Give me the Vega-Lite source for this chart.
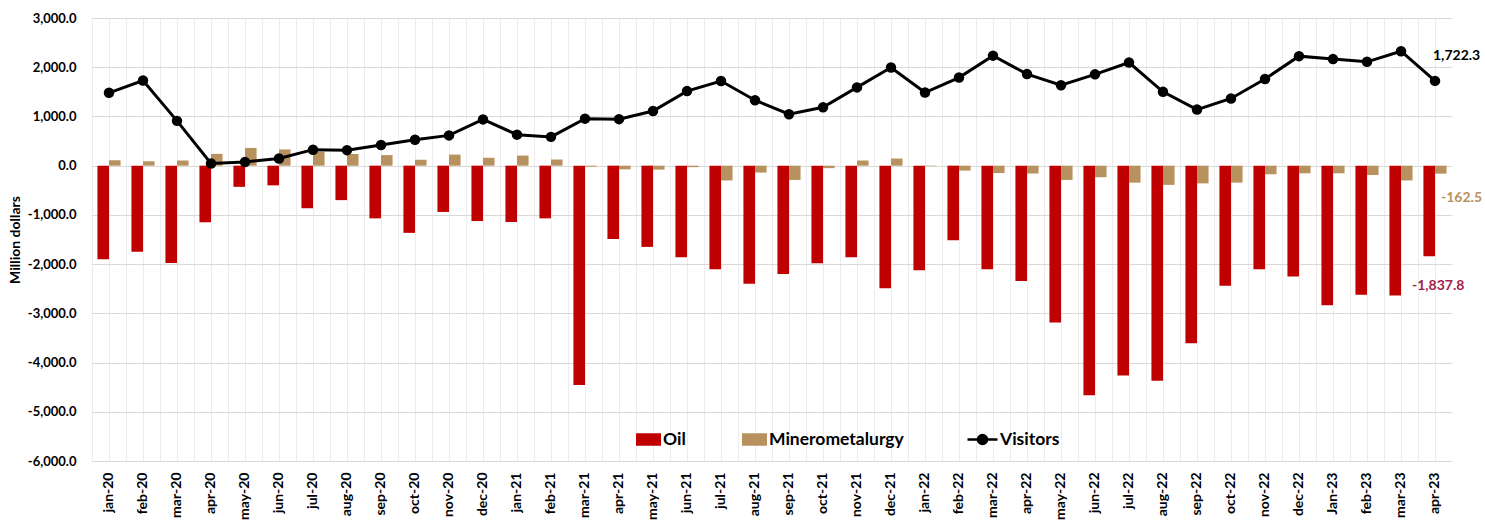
{
  "$schema": "https://vega.github.io/schema/vega-lite/v6.json",
  "width": 1360,
  "height": 443,
  "autosize": "none",
  "padding": {"left": 92, "top": 18, "right": 33, "bottom": 64},
  "config": {
    "font": "Lato",
    "view": {"stroke": null},
    "legend": {"padding": 0},
    "locale": {"number": {"decimal": ".", "thousands": ",", "grouping": [3], "currency": ["$", ""], "minus": "-"}}
  },
  "data": {
    "values": [
      {"m": "jan-20", "Oil": -1900, "Minerometalurgy": 110, "Visitors": 1480},
      {"m": "feb-20", "Oil": -1750, "Minerometalurgy": 90, "Visitors": 1730},
      {"m": "mar-20", "Oil": -1975, "Minerometalurgy": 105, "Visitors": 910},
      {"m": "apr-20", "Oil": -1150, "Minerometalurgy": 240, "Visitors": 45},
      {"m": "may-20", "Oil": -430, "Minerometalurgy": 360, "Visitors": 75},
      {"m": "jun-20", "Oil": -400, "Minerometalurgy": 330, "Visitors": 145},
      {"m": "jul-20", "Oil": -865, "Minerometalurgy": 285, "Visitors": 325},
      {"m": "aug-20", "Oil": -700, "Minerometalurgy": 235, "Visitors": 315},
      {"m": "sep-20", "Oil": -1070, "Minerometalurgy": 215, "Visitors": 420},
      {"m": "oct-20", "Oil": -1365, "Minerometalurgy": 120, "Visitors": 525},
      {"m": "nov-20", "Oil": -940, "Minerometalurgy": 225, "Visitors": 615},
      {"m": "dec-20", "Oil": -1125, "Minerometalurgy": 160, "Visitors": 940},
      {"m": "jan-21", "Oil": -1145, "Minerometalurgy": 205, "Visitors": 630},
      {"m": "feb-21", "Oil": -1070, "Minerometalurgy": 125, "Visitors": 585},
      {"m": "mar-21", "Oil": -4455, "Minerometalurgy": -20, "Visitors": 955},
      {"m": "apr-21", "Oil": -1490, "Minerometalurgy": -75, "Visitors": 945},
      {"m": "may-21", "Oil": -1650, "Minerometalurgy": -80, "Visitors": 1110},
      {"m": "jun-21", "Oil": -1860, "Minerometalurgy": -30, "Visitors": 1515},
      {"m": "jul-21", "Oil": -2105, "Minerometalurgy": -300, "Visitors": 1720},
      {"m": "aug-21", "Oil": -2400, "Minerometalurgy": -140, "Visitors": 1330},
      {"m": "sep-21", "Oil": -2200, "Minerometalurgy": -290, "Visitors": 1045},
      {"m": "oct-21", "Oil": -1985, "Minerometalurgy": -50, "Visitors": 1185},
      {"m": "nov-21", "Oil": -1860, "Minerometalurgy": 105, "Visitors": 1590},
      {"m": "dec-21", "Oil": -2490, "Minerometalurgy": 145, "Visitors": 1995},
      {"m": "jan-22", "Oil": -2125, "Minerometalurgy": -10, "Visitors": 1485},
      {"m": "feb-22", "Oil": -1515, "Minerometalurgy": -100, "Visitors": 1790},
      {"m": "mar-22", "Oil": -2105, "Minerometalurgy": -150, "Visitors": 2235},
      {"m": "apr-22", "Oil": -2345, "Minerometalurgy": -160, "Visitors": 1860},
      {"m": "may-22", "Oil": -3185, "Minerometalurgy": -290, "Visitors": 1635},
      {"m": "jun-22", "Oil": -4665, "Minerometalurgy": -235, "Visitors": 1855},
      {"m": "jul-22", "Oil": -4265, "Minerometalurgy": -345, "Visitors": 2095},
      {"m": "aug-22", "Oil": -4370, "Minerometalurgy": -390, "Visitors": 1500},
      {"m": "sep-22", "Oil": -3610, "Minerometalurgy": -360, "Visitors": 1140},
      {"m": "oct-22", "Oil": -2440, "Minerometalurgy": -345, "Visitors": 1365},
      {"m": "nov-22", "Oil": -2105, "Minerometalurgy": -175, "Visitors": 1760},
      {"m": "dec-22", "Oil": -2250, "Minerometalurgy": -155, "Visitors": 2225},
      {"m": "Jan-23", "Oil": -2835, "Minerometalurgy": -155, "Visitors": 2165},
      {"m": "feb-23", "Oil": -2620, "Minerometalurgy": -190, "Visitors": 2110},
      {"m": "mar-23", "Oil": -2640, "Minerometalurgy": -300, "Visitors": 2325},
      {"m": "apr-23", "Oil": -1837.8, "Minerometalurgy": -162.5, "Visitors": 1722.3}
    ]
  },
  "layer": [
    {
      "transform": [{"fold": ["Oil", "Minerometalurgy"], "as": ["series", "value"]}],
      "mark": {"type": "bar"},
      "encoding": {
        "x": {
          "field": "m", "type": "nominal", "sort": null,
          "scale": {"type": "band", "paddingInner": 0, "paddingOuter": 0},
          "axis": {
            "title": null, "labelAngle": 270, "labelFontWeight": "bold", "labelFontSize": 14,
            "labelColor": "black", "ticks": false, "tickSize": 0, "domain": false, "grid": true,
            "bandPosition": 0, "gridColor": "#ececec", "labelPadding": 11
          }
        },
        "xOffset": {
          "field": "series", "type": "nominal", "sort": ["Oil", "Minerometalurgy"],
          "scale": {"paddingOuter": 0.47, "paddingInner": 0}
        },
        "y": {
          "field": "value", "type": "quantitative",
          "scale": {"domain": [-6000, 3000], "nice": false},
          "axis": {
            "values": [-6000, -5000, -4000, -3000, -2000, -1000, 0, 1000, 2000, 3000],
            "format": ",.1f", "labelFontWeight": "bold", "labelFontSize": 13, "labelColor": "black",
            "ticks": false, "tickSize": 0, "domain": false, "grid": true, "gridColor": "#d9d9d9",
            "labelPadding": 16, "title": "Million dollars", "titleFontSize": 14,
            "titleFontWeight": "bold", "titleColor": "black", "titlePadding": 5
          }
        },
        "color": {
          "field": "series", "type": "nominal",
          "scale": {"domain": ["Oil", "Minerometalurgy"], "range": ["#C00000", "#B8925E"]},
          "legend": {
            "orient": "none", "legendX": 544, "legendY": 409, "direction": "horizontal",
            "title": null, "symbolType": "M-1,-0.5H1V0.5H-1Z", "symbolSize": 625,
            "symbolStrokeWidth": 0, "labelFontSize": 17.5, "labelFontWeight": "bold",
            "labelColor": "black", "labelOffset": 2, "columnPadding": 56
          }
        }
      }
    },
    {
      "mark": {"type": "line", "color": "black", "strokeWidth": 3},
      "encoding": {
        "x": {
          "field": "m", "type": "nominal", "sort": null,
          "scale": {"type": "band", "paddingInner": 0, "paddingOuter": 0},
          "axis": {
            "orient": "top", "labels": false, "ticks": false, "domain": false, "grid": true,
            "bandPosition": 0.5, "gridColor": "#ececec", "title": null
          }
        },
        "y": {"field": "Visitors", "type": "quantitative"},
        "stroke": {
          "datum": "Visitors",
          "scale": {"domain": ["Visitors"], "range": ["black"]},
          "legend": {
            "orient": "none", "legendX": 874, "legendY": 405, "title": null,
            "symbolType": "M-1,0H1M-0.3,0A0.3,0.3 0 1,0 0.3,0A0.3,0.3 0 1,0 -0.3,0Z",
            "symbolSize": 900, "symbolStrokeColor": "black", "symbolFillColor": "black",
            "symbolStrokeWidth": 2.5, "labelFontSize": 17.5, "labelFontWeight": "bold",
            "labelColor": "black", "labelOffset": 1
          }
        }
      }
    },
    {
      "mark": {"type": "point", "filled": true, "color": "black", "size": 110, "opacity": 1},
      "encoding": {
        "x": {"field": "m", "type": "nominal", "sort": null, "scale": {"type": "band", "paddingInner": 0, "paddingOuter": 0}, "axis": null},
        "y": {"field": "Visitors", "type": "quantitative"}
      }
    },
    {
      "transform": [{"filter": "datum.m === 'apr-23'"}],
      "mark": {"type": "text", "align": "left", "baseline": "middle", "dx": -2, "dy": -25, "fontSize": 14, "fontWeight": "bold", "color": "black"},
      "encoding": {
        "x": {"field": "m", "type": "nominal", "sort": null, "scale": {"type": "band", "paddingInner": 0, "paddingOuter": 0}, "axis": null},
        "y": {"field": "Visitors", "type": "quantitative"},
        "text": {"field": "Visitors", "type": "quantitative", "format": ",.1f"}
      }
    },
    {
      "transform": [{"filter": "datum.m === 'apr-23'"}],
      "mark": {"type": "text", "align": "left", "baseline": "middle", "dx": 6, "dy": 24, "fontSize": 14, "fontWeight": "bold", "color": "#B8925E"},
      "encoding": {
        "x": {"field": "m", "type": "nominal", "sort": null, "scale": {"type": "band", "paddingInner": 0, "paddingOuter": 0}, "axis": null},
        "y": {"field": "Minerometalurgy", "type": "quantitative"},
        "text": {"field": "Minerometalurgy", "type": "quantitative", "format": ",.1f"}
      }
    },
    {
      "transform": [{"filter": "datum.m === 'apr-23'"}],
      "mark": {"type": "text", "align": "left", "baseline": "middle", "dx": -23, "dy": 30, "fontSize": 14, "fontWeight": "bold", "color": "#A3224A"},
      "encoding": {
        "x": {"field": "m", "type": "nominal", "sort": null, "scale": {"type": "band", "paddingInner": 0, "paddingOuter": 0}, "axis": null},
        "y": {"field": "Oil", "type": "quantitative"},
        "text": {"field": "Oil", "type": "quantitative", "format": ",.1f"}
      }
    }
  ],
  "resolve": {"axis": {"x": "independent"}}
}
